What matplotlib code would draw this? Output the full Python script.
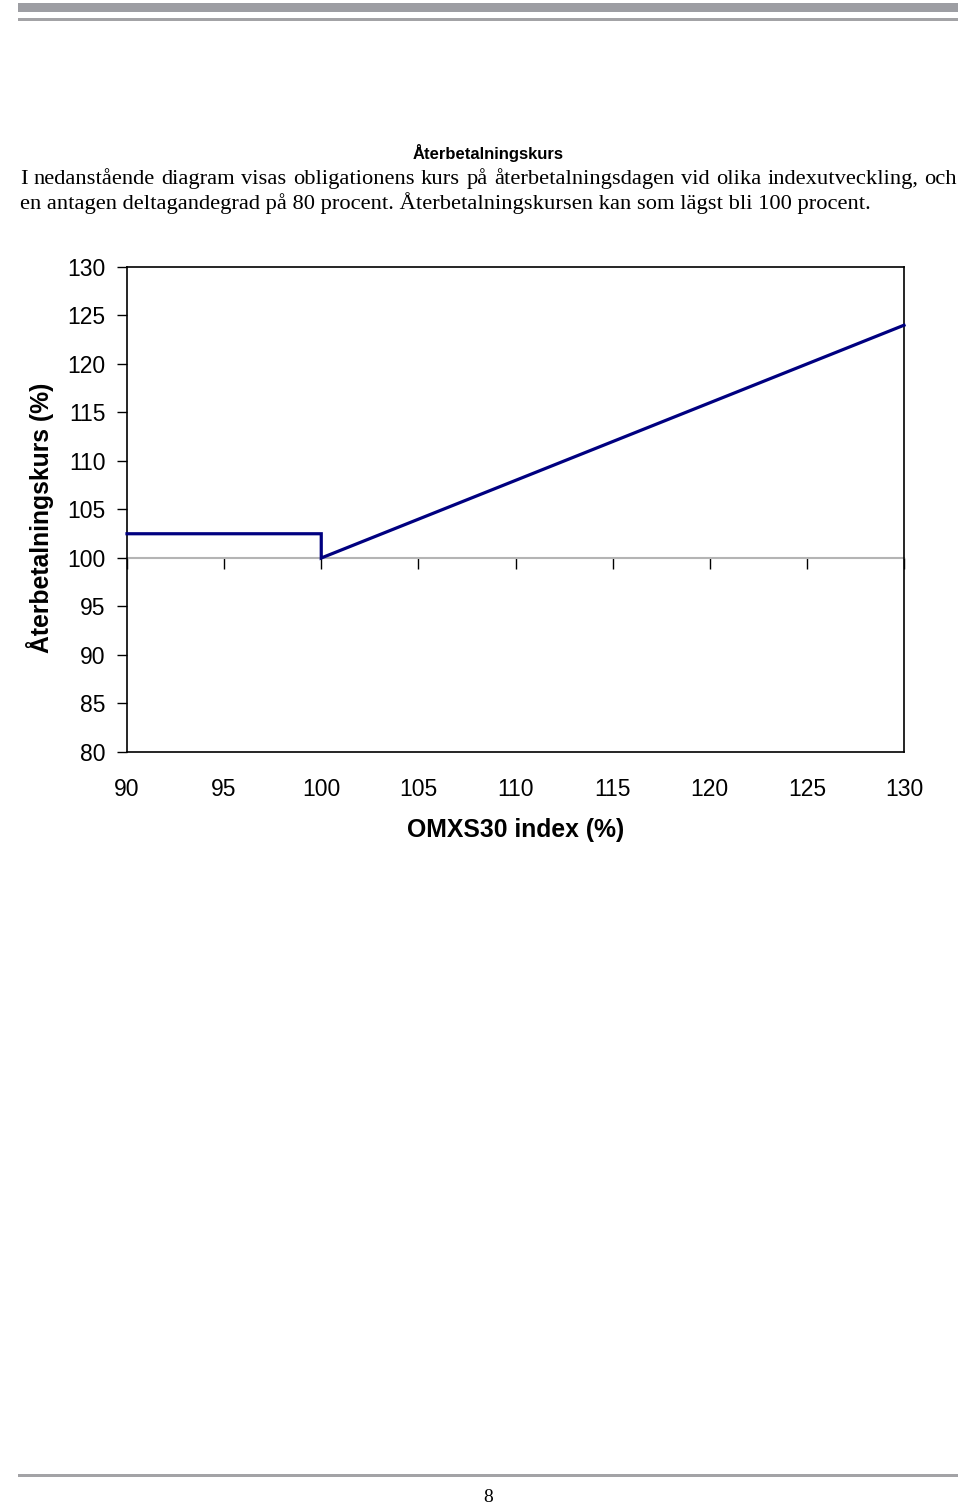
import matplotlib
matplotlib.use("Agg")
import matplotlib.pyplot as plt
from matplotlib.patches import Rectangle

# ---- data ----
index_pct = [90, 100, 100, 130]
payback_pct = [102.5, 102.5, 100, 124]
x_ticks = [90, 95, 100, 105, 110, 115, 120, 125, 130]
y_ticks = [80, 85, 90, 95, 100, 105, 110, 115, 120, 125, 130]

title = "Återbetalningskurs"
para1 = "I nedanstående diagram visas obligationens kurs på återbetalningsdagen vid olika indexutveckling, och"
para2 = "en antagen deltagandegrad på 80 procent. Återbetalningskursen kan som lägst bli 100 procent."
xlabel = "OMXS30 index (%)"
ylabel = "Återbetalningskurs (%)"
page_no = "8"

W, H = 960, 1507
fig = plt.figure(figsize=(W / 100, H / 100), dpi=100)

def fx(px):
    return px / W

def fy(py):
    return 1 - py / H

# page rules
fig.patches.append(Rectangle((fx(18), fy(12)), fx(958) - fx(18), 9 / H,
                             transform=fig.transFigure, color="#9d9ea3", lw=0))
fig.patches.append(Rectangle((fx(18), fy(21)), fx(958) - fx(18), 2.5 / H,
                             transform=fig.transFigure, color="#a3a3a6", lw=0))
fig.patches.append(Rectangle((fx(18), fy(1477)), fx(958) - fx(18), 3 / H,
                             transform=fig.transFigure, color="#a3a3a6", lw=0))

sans = ["Liberation Sans", "DejaVu Sans"]
serif = ["Liberation Serif", "DejaVu Serif"]

fig.text(fx(488), fy(153), title, ha="center", va="center", fontsize=12,
         fontweight="bold", family=sans)

# justified first line
renderer = fig.canvas.get_renderer()
words = para1.split()
tobjs = [fig.text(0, fy(184), w, ha="left", va="baseline", fontsize=16.2, family=serif)
         for w in words]
widths = [t.get_window_extent(renderer).width for t in tobjs]
left_px, right_px = 20, 957
gap = (right_px - left_px - sum(widths)) / (len(words) - 1)
cur = left_px
for t, wd in zip(tobjs, widths):
    t.set_x(fx(cur))
    cur += wd + gap
fig.text(fx(20), fy(209), para2, ha="left", va="baseline", fontsize=16.2, family=serif)

fig.text(fx(488), fy(1497), page_no, ha="center", va="center", fontsize=14, family=serif)

# ---- chart ----
ax = fig.add_axes([fx(127), fy(752), fx(904) - fx(127), (752 - 267) / H])
ax.plot(index_pct, payback_pct, color="#000080", lw=2.3, clip_on=False, zorder=5,
        solid_joinstyle="miter")
ax.set_xlim(90, 130)
ax.set_ylim(80, 130)
ax.set_yticks(y_ticks)
ax.set_xticks(x_ticks)
for s in ax.spines.values():
    s.set_linewidth(1.2)
    s.set_color("#000000")
ax.tick_params(axis="y", direction="out", length=7, width=1.0, pad=8.5,
               labelsize=16.5, colors="#000000")
ax.tick_params(axis="x", length=0, pad=19, labelsize=16.5)
for lab in ax.get_xticklabels() + ax.get_yticklabels():
    lab.set_family(sans)

ax.set_xlabel(xlabel, fontsize=17.8, fontweight="bold", family=sans, labelpad=12)
ax.set_ylabel(ylabel, fontsize=17.8, fontweight="bold", family=sans)
ax.yaxis.set_label_coords(-0.094, 0.4825)

# horizontal axis crossing at 100
ypos = (100 - 80) / (130 - 80)
sec = ax.secondary_xaxis(ypos)
sec.set_xticks(x_ticks)
sec.tick_params(direction="out", length=8, width=1.0, labelbottom=False,
                labeltop=False, colors="#000000")
for s in sec.spines.values():
    s.set_color("#b4b4b4")
    s.set_linewidth(1.5)

fig.savefig("out.png", dpi=100)
